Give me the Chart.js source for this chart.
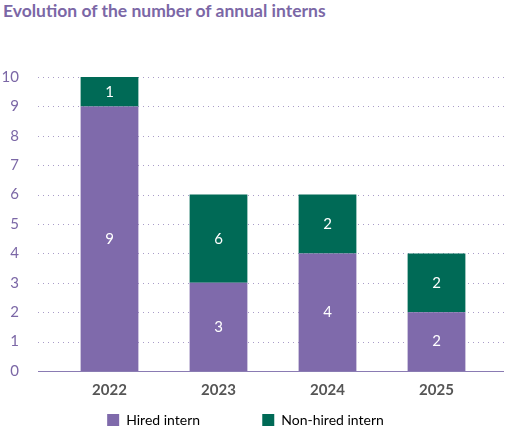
<!DOCTYPE html>
<html>
<head>
<meta charset="utf-8">
<script src="https://cdn.jsdelivr.net/npm/chart.js@4/dist/chart.umd.min.js"></script>
<style>
  body { margin: 0; background: #fff; }
  #wrap { width: 526px; height: 437px; position: relative; }
  h1 { position: absolute; left: 3px; top: 0; margin: 0; font: bold 17.5px Lato, sans-serif; color: #7b67a6; }
  #box { position: absolute; left: 0; top: 30px; width: 526px; height: 407px; }
</style>
</head>
<body>
<div id="wrap">
  <h1>Evolution of the number of annual interns</h1>
  <div id="box"><canvas id="c"></canvas></div>
</div>
<script>
/* ─── Data ─── */
const years = ['2022', '2023', '2024', '2025'];
const hired = [9, 3, 4, 2];
const nonHired = [1, 3, 2, 2];
const nonHiredLabels = [1, 6, 2, 2];

const PURPLE = '#7f6aab';
const GREEN = '#006a56';
const AXIS_TEXT = '#7b67a6';

/* ─── Dotted grid across the full width ─── */
const dottedGrid = {
  id: 'dottedGrid',
  beforeDatasetsDraw(chart) {
    const { ctx, scales: { y } } = chart;
    ctx.save();
    ctx.strokeStyle = '#a99cc8';
    ctx.lineWidth = 1;
    ctx.setLineDash([1, 4]);
    for (let v = 1; v <= 10; v++) {
      const py = Math.round(y.getPixelForValue(v)) + 0.5;
      ctx.beginPath();
      ctx.moveTo(38, py);
      ctx.lineTo(504, py);
      ctx.stroke();
    }
    ctx.setLineDash([]);
    ctx.strokeStyle = '#8a7bb3';
    const py0 = Math.round(y.getPixelForValue(0)) + 0.5;
    ctx.beginPath();
    ctx.moveTo(38, py0);
    ctx.lineTo(504, py0);
    ctx.stroke();
    ctx.restore();
  },
};

/* ─── White value labels in bar middles ─── */
const barLabels = {
  id: 'barLabels',
  afterDatasetsDraw(chart) {
    const { ctx } = chart;
    ctx.save();
    ctx.fillStyle = '#fff';
    ctx.font = '15px Lato, sans-serif';
    ctx.textAlign = 'center';
    ctx.textBaseline = 'middle';
    chart.data.datasets.forEach((ds, di) => {
      chart.getDatasetMeta(di).data.forEach((bar, i) => {
        const txt = di === 0 ? hired[i] : nonHiredLabels[i];
        ctx.fillText(String(txt), bar.x, (bar.y + bar.base) / 2);
      });
    });
    ctx.restore();
  },
};

new Chart(document.getElementById('c'), {
  type: 'bar',
  data: {
    labels: years,
    datasets: [
      { label: 'Hired intern', data: hired, backgroundColor: PURPLE, borderWidth: 0 },
      { label: 'Non-hired intern', data: nonHired, backgroundColor: GREEN, borderWidth: 0 },
    ],
  },
  options: {
    responsive: true,
    maintainAspectRatio: false,
    animation: false,
    layout: { padding: { left: 0, right: 35, top: 47, bottom: 0 } },
    categoryPercentage: 0.53,
    barPercentage: 1,
    plugins: {
      tooltip: { enabled: false },
      legend: {
        position: 'bottom',
        labels: {
          boxWidth: 12,
          boxHeight: 12,
          padding: 12,
          color: '#7b67a6',
          font: { family: 'Lato, sans-serif', size: 14 },
          generateLabels(chart) {
            return chart.data.datasets.map((ds, i) => ({
              text: i === 0 ? ds.label + '              ' : ds.label,
              fillStyle: ds.backgroundColor,
              strokeStyle: ds.backgroundColor,
              lineWidth: 0,
              datasetIndex: i,
            }));
          },
        },
      },
    },
    scales: {
      x: {
        stacked: true,
        grid: { display: false },
        border: { display: false },
        ticks: { color: '#555', font: { family: 'Lato, sans-serif', size: 15, weight: 'bold' }, padding: 2 },
      },
      y: {
        stacked: true,
        min: 0,
        max: 10,
        afterFit(scale) { scale.width = 55; },
        grid: { display: false },
        border: { display: false },
        ticks: {
          stepSize: 1,
          color: AXIS_TEXT,
          padding: 28,
          font: { family: 'Lato, sans-serif', size: 15 },
        },
      },
    },
  },
  plugins: [dottedGrid, barLabels],
});
</script>
</body>
</html>
